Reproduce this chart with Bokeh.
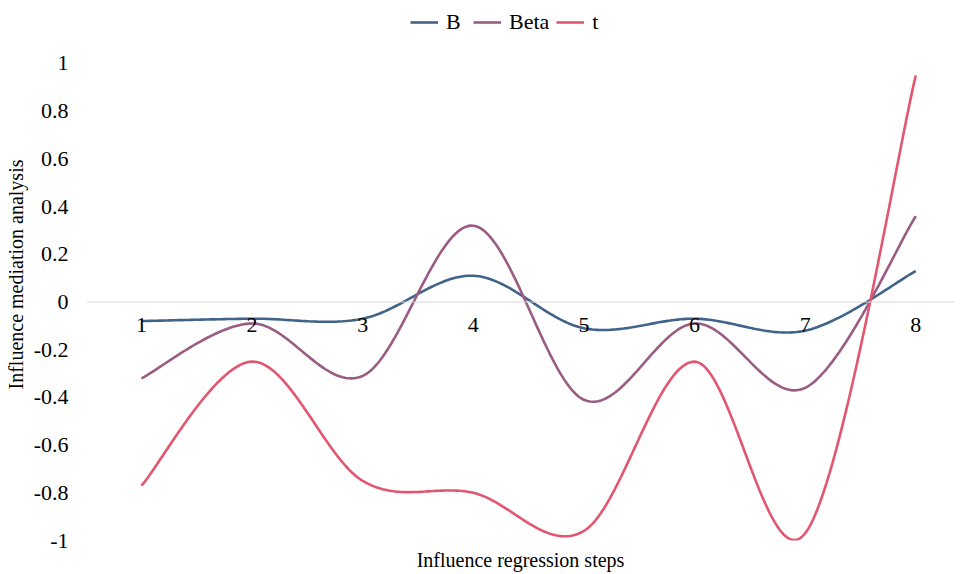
import numpy as np
from bokeh.plotting import figure
from bokeh.models import Range1d, Span, FixedTicker, Legend, LegendItem, ColumnDataSource
from bokeh.core.properties import value
from bokeh.embed import file_html
from bokeh.resources import INLINE

steps = [1, 2, 3, 4, 5, 6, 7, 8]
step_labels = ["1", "2", "3", "4", "5", "6", "7", "8"]
B = [-0.08, -0.07, -0.07, 0.11, -0.11, -0.07, -0.12, 0.13]
Beta = [-0.32, -0.09, -0.31, 0.32, -0.41, -0.09, -0.36, 0.36]
t = [-0.77, -0.25, -0.75, -0.80, -0.96, -0.25, -0.97, 0.95]
series_names = ["B", "Beta", "t"]
colors = ["#3F6389", "#9A5C82", "#E2566F"]
y_ticks = [-1, -0.8, -0.6, -0.4, -0.2, 0, 0.2, 0.4, 0.6, 0.8, 1]

FONT = "Liberation Serif"


def smooth(xs, ys, n=40):
    xs = np.asarray(xs, float)
    ys = np.asarray(ys, float)
    px = np.concatenate([[xs[0]], xs, [xs[-1]]])
    py = np.concatenate([[ys[0]], ys, [ys[-1]]])
    ox, oy = [], []
    s = np.linspace(0, 1, n)
    for i in range(1, len(px) - 2):
        p0x, p1x, p2x, p3x = px[i - 1], px[i], px[i + 1], px[i + 2]
        p0y, p1y, p2y, p3y = py[i - 1], py[i], py[i + 1], py[i + 2]
        c1x = p1x + (p2x - p0x) / 6
        c1y = p1y + (p2y - p0y) / 6
        c2x = p2x - (p3x - p1x) / 6
        c2y = p2y - (p3y - p1y) / 6
        bx = (1 - s) ** 3 * p1x + 3 * (1 - s) ** 2 * s * c1x + 3 * (1 - s) * s ** 2 * c2x + s ** 3 * p2x
        by = (1 - s) ** 3 * p1y + 3 * (1 - s) ** 2 * s * c1y + 3 * (1 - s) * s ** 2 * c2y + s ** 3 * p2y
        ox.extend(bx.tolist())
        oy.extend(by.tolist())
    return ox, oy


p = figure(frame_width=868, frame_height=532, output_backend="svg", toolbar_location=None,
           x_range=Range1d(0.503, 8.35), y_range=Range1d(-1.0, 1.2306),
           min_border_left=86, min_border_right=0, min_border_top=8, min_border_bottom=34)
p.outline_line_color = None
p.background_fill_color = "white"
p.border_fill_color = "white"
p.xgrid.visible = False
p.ygrid.visible = False

zero = Span(location=0, dimension="width", line_color="#D9D9D9", line_width=1)
p.add_layout(zero)

items = []
for name, ys, c in zip(series_names, [B, Beta, t], colors):
    sx, sy = smooth(steps, ys)
    r = p.line(sx, sy, line_color=c, line_width=2.6)
    items.append(LegendItem(label=name, renderers=[r]))

src = ColumnDataSource(dict(x=steps, y=[0] * len(steps), txt=step_labels))
p.text(x="x", y="y", text="txt", source=src, text_align="center", text_baseline="top",
       y_offset=16, text_font=value(FONT), text_font_size="22px", text_color="#000000")

p.yaxis.ticker = FixedTicker(ticks=y_ticks)
p.yaxis.major_label_overrides = {v: ("%g" % v) for v in y_ticks}
p.yaxis.axis_line_color = None
p.yaxis.major_tick_line_color = None
p.yaxis.minor_tick_line_color = None
p.yaxis.major_label_text_font = FONT
p.yaxis.major_label_text_font_size = "22px"
p.yaxis.major_label_text_font_style = "normal"
p.yaxis.major_label_text_color = "#000000"
p.yaxis.major_label_standoff = 12
p.yaxis.axis_label = "Influence mediation analysis"
p.yaxis.axis_label_text_font = FONT
p.yaxis.axis_label_text_font_size = "20px"
p.yaxis.axis_label_text_font_style = "normal"
p.yaxis.axis_label_text_color = "#000000"
p.yaxis.axis_label_standoff = 4

p.xaxis.ticker = FixedTicker(ticks=[])
p.xaxis.axis_line_color = None
p.xaxis.major_tick_line_color = None
p.xaxis.minor_tick_line_color = None
p.xaxis.major_label_text_font_size = "0px"
p.xaxis.axis_label = "Influence regression steps"
p.xaxis.axis_label_text_font = FONT
p.xaxis.axis_label_text_font_size = "20px"
p.xaxis.axis_label_text_font_style = "normal"
p.xaxis.axis_label_text_color = "#000000"
p.xaxis.axis_label_standoff = 8

legend = Legend(items=items, orientation="horizontal", location=(324, 505),
                label_text_font=FONT, label_text_font_size="22px", label_text_font_style="normal",
                label_text_color="#000000",
                glyph_width=28, glyph_height=20, label_standoff=8, spacing=7,
                border_line_color=None, background_fill_alpha=0, padding=2, margin=0)
p.add_layout(legend, "center")

open("out.html", "w").write(file_html(p, INLINE))
